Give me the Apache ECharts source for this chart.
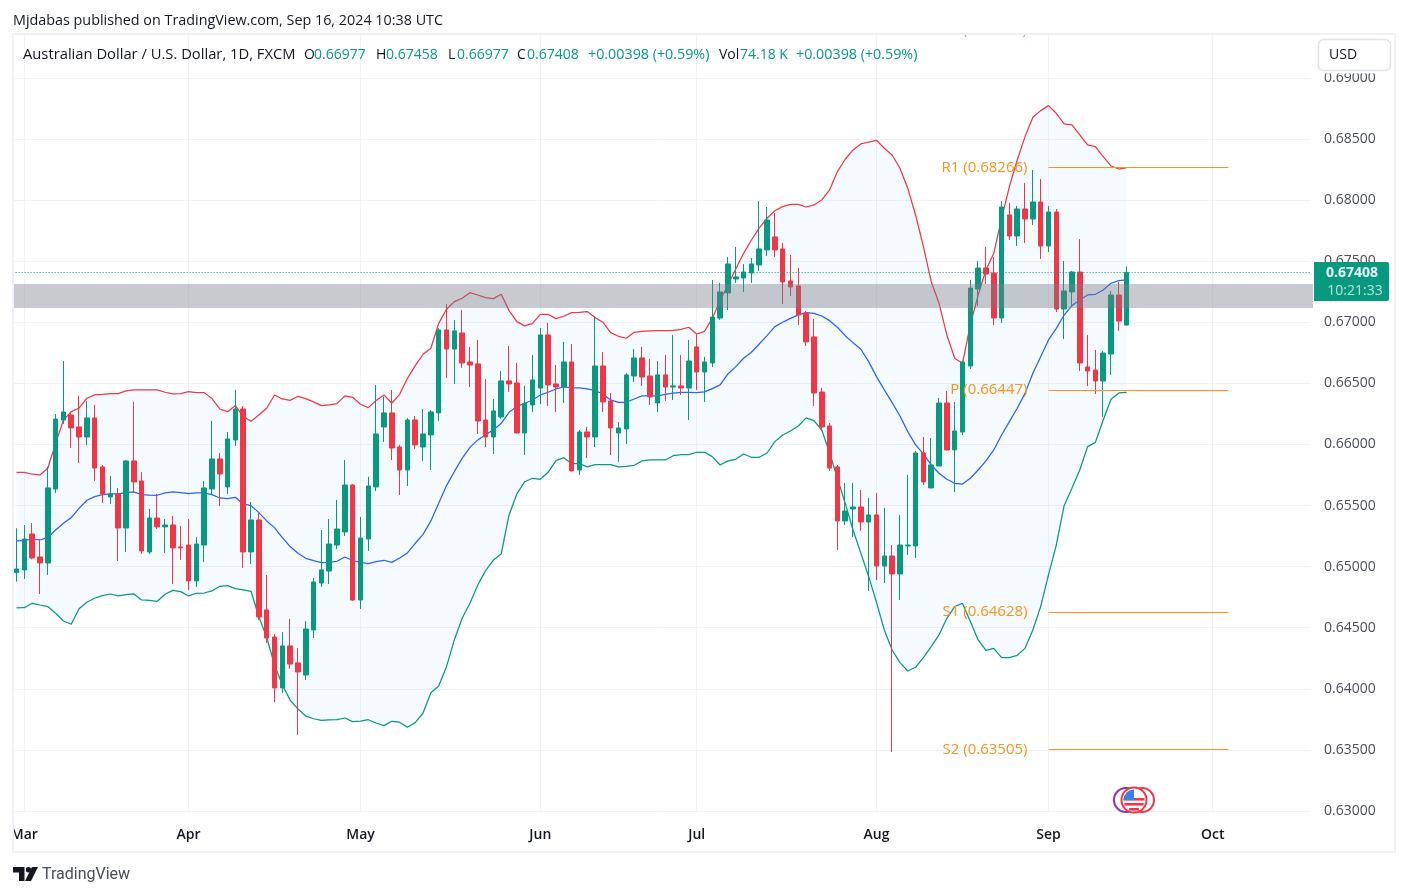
<!DOCTYPE html>
<html><head><meta charset="utf-8"><style>html,body{margin:0;padding:0;background:#fff}#c{width:1408px;height:896px}</style>
<script src="https://cdn.jsdelivr.net/npm/echarts@6/dist/echarts.min.js"></script></head>
<body><div id="c"></div>
<script>
const opens=[.64951,.64973,.65267,.65079,.65030,.65636,.66200,.66241,.66143,.66061,
.66217,.65816,.65570,.65595,.65316,.65865,.65701,.65120,.65398,.65325,
.65341,.65161,.65177,.64883,.65177,.65636,.65881,.65652,.66037,.66290,
.65120,.65382,.64645,.64424,.64007,.64351,.64212,.64113,.64482,.64866,
.64964,.65177,.65284,.65668,.64727,.65226,.65652,.66143,.66258,.65979,
.65791,.66200,.65979,.66078,.66258,.66937,.66781,.66912,.66675,.66659,
.66200,.66061,.66225,.66520,.66503,.66094,.66323,.66462,.66896,.66495,
.66470,.66675,.65791,.66102,.66061,.66642,.66356,.66094,.66127,.66560,
.66708,.66560,.66340,.66569,.66470,.66479,.66462,.66798,.66593,.66667,
.67035,.67240,.67354,.67362,.67403,.67469,.67592,.67698,.67600,.67338,
.67297,.67076,.66880,.66429,.66151,.65816,.65374,.65472,.65488,.65365,
.65423,.65005,.65087,.64940,.65169,.65169,.65930,.65644,.65824,.66339,
.65955,.66102,.66642,.67272,.67444,.67403,.67035,.67878,.67706,.67927,
.67845,.67984,.67624,.67902,.67109,.67248,.67411,.66634,.66609,.66519,.66740,.67223,.66977];
const closes=[.64981,.65226,.65071,.65030,.65644,.66208,.66266,.66135,.66061,.66217,
.65807,.65595,.65595,.65316,.65865,.65693,.65128,.65398,.65325,.65341,
.65153,.65153,.64883,.65185,.65644,.65881,.65758,.66045,.66290,.65120,
.65382,.64588,.64416,.64007,.64351,.64203,.64138,.64490,.64874,.64973,
.65185,.65308,.65668,.64727,.65234,.65660,.66086,.66258,.65971,.65791,
.66200,.65996,.66086,.66266,.66937,.66781,.66929,.66667,.66650,.66192,
.66061,.66274,.66520,.66495,.66094,.66337,.66528,.66896,.66487,.66470,
.66675,.65783,.66102,.66061,.66642,.66348,.66135,.66135,.66569,.66708,
.66552,.66389,.66569,.66470,.66479,.66462,.66683,.66593,.66675,.67043,
.67248,.67477,.67371,.67411,.67477,.67600,.67837,.67592,.67330,.67289,
.67060,.66839,.66421,.66143,.65807,.65374,.65455,.65488,.65365,.65423,
.65005,.65087,.64940,.65177,.65177,.65930,.65693,.65832,.66339,.65955,
.66110,.66675,.67280,.67444,.67395,.67035,.67943,.67706,.67927,.67845,
.67984,.67624,.67902,.67109,.67256,.67411,.66667,.66601,.66519,.66748,.67223,.67010,.67408];
const lows=[.64877,.64899,.65060,.64776,.64932,.65603,.66168,.65971,.65848,.65996,
.65701,.65521,.65513,.65046,.65120,.65603,.65104,.65104,.65308,.65112,
.64858,.65055,.64809,.64834,.65038,.65586,.65496,.65595,.65987,.64989,
.65022,.64563,.64375,.63892,.63966,.64162,.63622,.64072,.64416,.64834,
.64858,.65144,.65251,.64719,.64653,.65128,.65619,.66020,.65873,.65586,
.65660,.65963,.65865,.65791,.66192,.66544,.66495,.66626,.66470,.66086,
.65979,.65922,.66210,.66430,.66090,.65914,.66266,.66331,.66315,.66266,
.66340,.65780,.65750,.65889,.65979,.66266,.65914,.65857,.66004,.66511,
.66479,.66323,.66266,.66356,.66364,.66405,.66200,.66446,.66348,.66634,
.67019,.67100,.67322,.67248,.67322,.67420,.67542,.67534,.67150,.67215,
.66978,.66806,.66315,.66110,.65783,.65136,.65341,.65243,.65292,.64801,
.64891,.64866,.63483,.64727,.65095,.65071,.65668,.65640,.65820,.65950,
.65611,.66078,.66618,.67133,.67313,.66978,.66994,.67673,.67624,.67649,
.67796,.67518,.67575,.67084,.66863,.67133,.66601,.66478,.66413,.66225,.66568,.66929,.66977];
const highs=[.65314,.65341,.65357,.65218,.65818,.66249,.66683,.66268,.66397,.66356,
.66323,.65832,.65742,.65644,.65873,.66348,.65775,.65472,.65595,.65390,
.65415,.65333,.65390,.65243,.65701,.66192,.65930,.66102,.66446,.66315,
.65529,.65439,.64932,.64449,.64465,.64572,.64334,.64555,.64907,.65300,
.65390,.65546,.65873,.65676,.65406,.65734,.66487,.66391,.66446,.65996,
.66217,.66233,.66290,.66282,.66953,.67150,.67019,.67101,.66798,.66855,
.66536,.66372,.66601,.66806,.66667,.66479,.66732,.66953,.66994,.66650,
.66839,.66822,.66119,.66143,.67052,.66757,.66421,.66184,.66585,.66781,
.66798,.66700,.66683,.66732,.66896,.66732,.66855,.66900,.66716,.67346,
.67322,.67534,.67616,.67477,.67526,.67993,.67943,.67894,.67649,.67551,
.67444,.67092,.67027,.66462,.66176,.65832,.65685,.65685,.65627,.65562,
.65603,.65480,.65177,.65423,.65750,.65946,.66061,.66053,.66380,.66438,
.66347,.66683,.67346,.67501,.67616,.67534,.67992,.67976,.67951,.68140,
.68246,.68172,.67951,.67927,.67501,.67420,.67681,.66896,.66773,.66765,.67256,.67329,.67458];
const upperBand=[.65772,.65772,.65756,.65750,.65805,.66009,.66200,.66268,.66298,.66378,
.66405,.66410,.66416,.66416,.66438,.66446,.66446,.66446,.66446,.66427,
.66413,.66416,.66432,.66424,.66424,.66375,.66290,.66268,.66318,.66228,
.66189,.66241,.66296,.66405,.66372,.66361,.66394,.66375,.66348,.66318,
.66323,.66334,.66397,.66386,.66329,.66301,.66359,.66405,.66337,.66410,
.66541,.66645,.66738,.66787,.66991,.67106,.67169,.67196,.67242,.67223,
.67201,.67193,.67229,.67095,.67005,.66970,.66991,.67065,.67065,.67030,
.67049,.67079,.67081,.67087,.67038,.67000,.66915,.66885,.66869,.66918,
.66926,.66929,.66931,.66931,.66934,.66942,.66959,.66904,.66926,.67032,
.67177,.67305,.67436,.67564,.67673,.67770,.67851,.67913,.67946,.67965,
.67965,.67943,.67960,.68001,.68083,.68233,.68334,.68410,.68459,.68475,
.68489,.68424,.68369,.68260,.68096,.67878,.67619,.67332,.67155,.66896,
.66705,.66664,.66978,.67223,.67428,.67564,.67851,.68110,.68328,.68519,
.68677,.68732,.68773,.68710,.68623,.68615,.68533,.68451,.68437,.68355,.68279,.68254,.68265];
const middleBand=[.65210,.65215,.65224,.65218,.65240,.65300,.65355,.65401,.65477,.65543,
.65573,.65589,.65595,.65595,.65606,.65611,.65589,.65586,.65584,.65603,
.65611,.65606,.65597,.65603,.65603,.65589,.65562,.65556,.65567,.65513,
.65499,.65442,.65374,.65319,.65237,.65164,.65109,.65068,.65049,.65033,
.65035,.65044,.65079,.65050,.65035,.65024,.65041,.65052,.65035,.65071,
.65112,.65191,.65264,.65374,.65518,.65663,.65777,.65886,.65976,.66037,
.66080,.66118,.66173,.66263,.66310,.66337,.66364,.66405,.66427,.66454,
.66470,.66462,.66462,.66454,.66440,.66413,.66364,.66345,.66345,.66372,
.66397,.66397,.66397,.66410,.66419,.66427,.66427,.66425,.66430,.66457,
.66487,.66577,.66637,.66705,.66754,.66822,.66890,.66964,.67000,.67032,
.67060,.67079,.67073,.67051,.67013,.66959,.66890,.66833,.66779,.66678,
.66555,.66446,.66342,.66233,.66105,.65996,.65922,.65832,.65764,.65715,
.65682,.65676,.65723,.65791,.65865,.65955,.66077,.66187,.66296,.66418,
.66582,.66718,.66855,.66950,.67059,.67136,.67182,.67223,.67229,.67264,.67319,.67340,.67346];
const lowerBand=[.64662,.64664,.64700,.64686,.64673,.64618,.64555,.64528,.64656,.64708,
.64741,.64763,.64776,.64760,.64771,.64776,.64727,.64724,.64716,.64774,
.64806,.64795,.64760,.64782,.64784,.64801,.64839,.64844,.64820,.64809,
.64798,.64590,.64421,.64195,.64031,.63908,.63835,.63777,.63755,.63742,
.63745,.63747,.63761,.63731,.63736,.63747,.63720,.63699,.63734,.63727,
.63685,.63723,.63802,.63967,.64023,.64181,.64400,.64577,.64700,.64850,
.64967,.65054,.65104,.65423,.65595,.65695,.65723,.65715,.65772,.65867,
.65892,.65843,.65843,.65816,.65835,.65835,.65835,.65816,.65821,.65829,
.65865,.65873,.65873,.65873,.65908,.65916,.65916,.65936,.65936,.65900,
.65832,.65865,.65878,.65922,.65895,.65895,.65930,.66023,.66077,.66110,
.66151,.66217,.66195,.66118,.65930,.65723,.65518,.65300,.65109,.64918,
.64708,.64481,.64318,.64214,.64146,.64176,.64255,.64345,.64441,.64577,
.64673,.64700,.64550,.64400,.64315,.64331,.64255,.64255,.64274,.64331,
.64481,.64673,.64932,.65177,.65499,.65641,.65791,.65982,.66017,.66200,.66369,.66421,.66427];
const pivotNames=['R1','P','S1','S2'];
const pivotValues=[.68266,.66447,.64628,.63505];
const pivotStart='2024-09-02', pivotEnd='2024-10-03';
const hiddenPivot='R2 (0.69389)';
const zoneLow=.67117, zoneHigh=.67313;
const lastPrice=.67408;
const tickDays=['2024-03-01','2024-04-01','2024-05-01','2024-06-03','2024-07-01','2024-08-01','2024-09-02','2024-10-01'];
const tickLabels=['Mar','Apr','May','Jun','Jul','Aug','Sep','Oct'];
const categories=[];
for(let t=Date.UTC(2024,1,29);categories.length<166;t+=864e5){const d=new Date(t);if(d.getUTCDay()%6)categories.push(d.toISOString().slice(0,10));}
const UP='#089981',DOWN='#f23645',ORANGE='#f7931e',GRIDC='#f0f3fa',INK='#131722';
const FONT='"Open Sans"';
const candles=opens.map((o,i)=>[o,closes[i],lows[i],highs[i]]);
const tickIdx=new Set(tickDays.map(d=>categories.indexOf(d)));
const chart=echarts.init(document.getElementById('c'),null,{renderer:'canvas'});
const lineS=(name,data,color)=>({name,type:'line',data,symbol:'none',smooth:false,z:3,silent:true,animation:false,lineStyle:{color,width:1.25}});
const txt=(x,y,text,fill,extra,z)=>({type:'text',z:z||50,silent:true,style:Object.assign({x,y,text,fill,font:'14px '+FONT,textVerticalAlign:'middle'},extra||{})});
function flag(cx,cy,r){const out=[{type:'circle',z:41,shape:{cx,cy,r},style:{fill:'#fff',stroke:DOWN,lineWidth:2}}];
 for(let k=0;k<3;k++){const dy=-1+k*5-1;const h=2.6;const my=Math.abs(dy+h/2);const hw=Math.sqrt(Math.max(0,(r-2)*(r-2)-my*my));
  out.push({type:'rect',z:42,shape:{x:cx-hw,y:cy+dy,width:2*hw,height:h},style:{fill:DOWN}});}
 out.push({type:'sector',z:43,shape:{cx,cy,r:r-2,startAngle:Math.PI,endAngle:Math.PI*1.5},style:{fill:'#3b82e6'}});
 return out;}
const graphics=[
 txt(1027,30,hiddenPivot,ORANGE,{textAlign:'right',font:'15px '+FONT},2),
 {type:'rect',z:30,shape:{x:0,y:0,width:1408,height:33},style:{fill:'#fff'}},
 {type:'rect',z:30,shape:{x:0,y:820,width:12,height:30},style:{fill:'#fff'}},
 {type:'rect',z:31,shape:{x:13,y:34,width:1382,height:818},style:{fill:'none',stroke:'#eff1f7',lineWidth:2}},
 txt(13,21,'Mjdabas published on TradingView.com, Sep 16, 2024 10:38 UTC',INK,{font:'14.35px '+FONT}),
 txt(23,55,'Australian Dollar / U.S. Dollar, 1D, FXCM',INK,{font:'14.75px '+FONT}),
 txt(304,55,'O',INK),txt(314,55,'0.66977',UP),
 txt(376,55,'H',INK),txt(386,55,'0.67458',UP),
 txt(448,55,'L',INK),txt(457,55,'0.66977',UP),
 txt(517,55,'C',INK),txt(527,55,'0.67408',UP),
 txt(588,55,'+0.00398 (+0.59%)',UP,{font:'14.3px '+FONT}),
 txt(719,55,'Vol',INK),txt(740,55,'74.18 K',UP),
 txt(796,55,'+0.00398 (+0.59%)',UP,{font:'14.3px '+FONT}),
 {type:'rect',z:44,shape:{x:1318,y:70,width:73,height:3.5},style:{fill:'#fff'}},
 {type:'rect',z:45,shape:{x:1318.5,y:39.5,width:72,height:31,r:5},style:{fill:'#fff',stroke:'#e0e3eb',lineWidth:1.5}},
 txt(1329,55,'USD',INK),
 {type:'rect',z:45,shape:{x:1314,y:262,width:75,height:39,r:[0,2,2,0]},style:{fill:UP}},
 txt(1352,273,'0.67408','rgba(255,255,255,.92)',{font:'bold 14px '+FONT,textAlign:'center'}),
 txt(1355,291,'10:21:33','rgba(255,255,255,.72)',{textAlign:'center'}),
 {type:'circle',z:40,shape:{cx:1126,cy:800,r:12},style:{fill:'#fff',stroke:'#9c27b0',lineWidth:2}},
 {type:'circle',z:40,shape:{cx:1142,cy:800,r:12},style:{fill:'#fff',stroke:DOWN,lineWidth:2}},
 ...flag(1134,800,12.5),
 {type:'polygon',z:50,shape:{points:[[13,867],[24.5,867],[24.5,881],[19,881],[19,872.5],[13,872.5]]},style:{fill:INK}},
 {type:'circle',z:50,shape:{cx:28.5,cy:869.7,r:2.7},style:{fill:INK}},
 {type:'polygon',z:50,shape:{points:[[32,867],[38,867],[31,881],[25,881]]},style:{fill:INK}},
 txt(42,875,'TradingView','#4a4d57',{font:'16px Roboto'})
];
chart.setOption({
 animation:false,
 backgroundColor:'#fff',
 grid:{left:12.6,top:34,width:1297.8,height:777,containLabel:false},
 xAxis:{type:'category',data:categories,boundaryGap:true,
  axisLine:{show:false},axisTick:{show:false},
  axisLabel:{interval:i=>tickIdx.has(i),formatter:(v)=>tickLabels[tickDays.indexOf(v)],margin:17,color:INK,fontFamily:FONT,fontSize:14,fontWeight:600,hideOverlap:false,showMinLabel:true},
  splitLine:{show:true,alignWithLabel:true,interval:i=>tickIdx.has(i),lineStyle:{color:GRIDC,width:1}}},
 yAxis:{type:'value',position:'right',min:.63,max:.69359,interval:.005,
  axisLine:{show:false},axisTick:{show:false},
  axisLabel:{formatter:v=>v.toFixed(5),margin:13.6,color:'#4a4d57',fontFamily:FONT,fontSize:14,showMaxLabel:false},
  splitLine:{show:true,showMaxLine:false,lineStyle:{color:GRIDC,width:1}}},
 series:[
  {type:'custom',z:1,silent:true,data:[0],clip:true,renderItem:(p,api)=>{
    const pts=upperBand.map((v,i)=>api.coord([i,v]));
    for(let i=lowerBand.length-1;i>=0;i--)pts.push(api.coord([i,lowerBand[i]]));
    return {type:'polygon',shape:{points:pts},style:{fill:'rgba(33,150,243,.05)'}};}},
  {type:'line',z:2,data:[],silent:true,markLine:{silent:true,symbol:'none',animation:false,precision:5,
    data:pivotValues.map((v,i)=>[{coord:[pivotStart,v],lineStyle:{color:ORANGE,width:1,type:'solid'},
      label:{show:true,position:'start',distance:21,formatter:pivotNames[i]+' ('+v.toFixed(5)+')',color:ORANGE,fontFamily:FONT,fontSize:15}},{coord:[pivotEnd,v]}])}},
  lineS('upper',upperBand,'#f23645'),
  lineS('middle',middleBand,'#2962ff'),
  lineS('lower',lowerBand,'#089981'),
  {type:'candlestick',z:4,silent:true,barWidth:5,data:candles,
   itemStyle:{color:UP,color0:DOWN,borderColor:UP,borderColor0:DOWN,borderWidth:1}},
  {type:'line',z:5,data:[],silent:true,markLine:{silent:true,symbol:'none',animation:false,precision:5,label:{show:false},
    data:[{yAxis:lastPrice,lineStyle:{color:UP,width:1,type:[1,2]}}]}},
  {type:'custom',z:6,silent:true,data:[0],clip:false,renderItem:(p,api)=>{
    const a=api.coord([0,zoneHigh]),b=api.coord([0,zoneLow]);
    return {type:'rect',shape:{x:p.coordSys.x,y:a[1],width:p.coordSys.width+2.6,height:b[1]-a[1]},style:{fill:'rgba(120,123,134,.4)'}};}}
 ],
 graphic:graphics
});
</script></body></html>
